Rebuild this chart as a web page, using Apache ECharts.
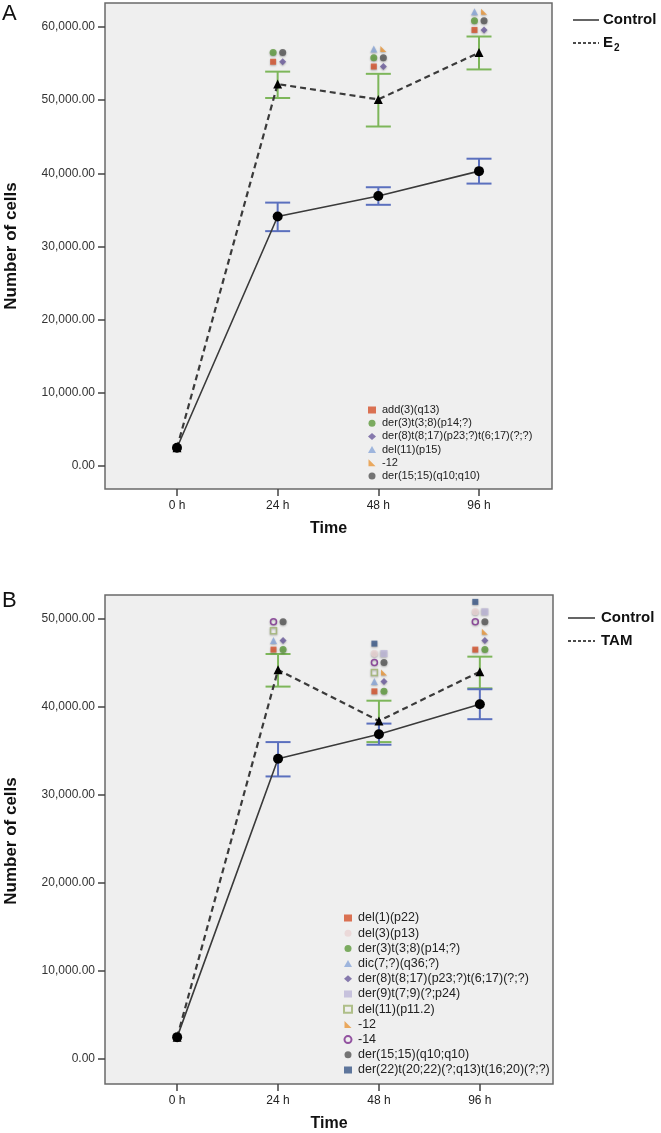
<!DOCTYPE html>
<html>
<head>
<meta charset="utf-8">
<script src="https://cdn.jsdelivr.net/npm/echarts@6/dist/echarts.min.js"></script>
<style>
html,body{margin:0;padding:0;background:#fff;}
#chart{width:661px;height:1133px;}
</style>
</head>
<body>
<div id="chart"></div>
<script>
// ---------- data ----------
const timeLabels = ['0 h', '24 h', '48 h', '96 h'];
const timeIndex = [0, 1, 2, 3];
const yTicksA = [0, 10000, 20000, 30000, 40000, 50000, 60000];
const yTicksB = [0, 10000, 20000, 30000, 40000, 50000];

const controlMean = [2500, 34100, 36900, 40300];
const controlLow  = [null, 32100, 35700, 38600];
const controlHigh = [null, 36000, 38100, 42000];

const e2Mean = [2500, 52200, 50100, 56500];
const e2Low  = [null, 50300, 46400, 54200];
const e2High = [null, 53900, 53600, 58700];

const tamMean = [2500, 44200, 38400, 44000];
const tamLow  = [null, 42300, 36000, 42100];
const tamHigh = [null, 46000, 40700, 45700];

// abnormality markers, panel A (E2)
const aAdd3  = [null, 55250, 54600, 59600];
const aDer3  = [null, 56500, 55800, 60850];
const aDer8  = [null, 55250, 54600, 59600];
const aDel11 = [null, null, 57000, 62100];
const aM12   = [null, null, 57000, 62100];
const aDer15 = [null, 56500, 55800, 60850];

// abnormality markers, panel B (TAM)
const bDel1  = [null, 46500, 41760, 46500];
const bDel3  = [null, null, 46050, 50790];
const bDer3  = [null, 46500, 41760, 46500];
const bDic7  = [null, 47520, 42890, null];
const bDer8  = [null, 47520, 42890, 47520];
const bDer9  = [null, null, 46050, 50790];
const bDel11 = [null, 48650, 43900, null];
const bM12   = [null, null, 43900, 48530];
const bM14   = [null, 49660, 45030, 49660];
const bDer15 = [null, 49660, 45030, 49660];
const bDer22 = [null, null, 47180, 51920];

// ---------- styles ----------
const FONT = '"Liberation Sans", Arial, Helvetica, sans-serif';
const SIDE = {L: -0.045, R: 0.05};
const tri12 = 'path://M0,0L0,10L10,10Z';
const markStyles = {
  'add(3)(q13)':           {symbol: 'rect', color: '#d4512b', size: 6},
  'del(1)(p22)':           {symbol: 'rect', color: '#d4512b', size: 6},
  'del(3)(p13)':           {symbol: 'circle', color: '#ead3d3', size: 7},
  'der(3)t(3;8)(p14;?)':   {symbol: 'circle', color: '#5e9a3c', size: 7},
  'dic(7;?)(q36;?)':       {symbol: 'triangle', color: '#8aa6d8', size: 7},
  'del(11)(p15)':          {symbol: 'triangle', color: '#8aa6d8', size: 7},
  'der(8)t(8;17)(p23;?)t(6;17)(?;?)': {symbol: 'diamond', color: '#6b5b9c', size: 7},
  'der(9)t(7;9)(?;p24)':   {symbol: 'rect', color: '#bdb6d8', size: 7},
  'del(11)(p11.2)':        {symbol: 'rect', color: 'rgba(0,0,0,0)', border: '#9fb36f', size: 6},
  '-12':                   {symbol: tri12, color: '#e8963a', size: 6},
  '-14':                   {symbol: 'circle', color: 'rgba(0,0,0,0)', border: '#7b2a8c', size: 6},
  'der(15;15)(q10;q10)':   {symbol: 'circle', color: '#555555', size: 7},
  'der(22)t(20;22)(?;q13)t(16;20)(?;?)': {symbol: 'rect', color: '#3a5787', size: 6}
};

const marksA = [
  ['add(3)(q13)', aAdd3, 'L'],
  ['der(3)t(3;8)(p14;?)', aDer3, 'L'],
  ['der(8)t(8;17)(p23;?)t(6;17)(?;?)', aDer8, 'R'],
  ['del(11)(p15)', aDel11, 'L'],
  ['-12', aM12, 'R'],
  ['der(15;15)(q10;q10)', aDer15, 'R']
];
const marksB = [
  ['del(1)(p22)', bDel1, 'L'],
  ['del(3)(p13)', bDel3, 'L'],
  ['der(3)t(3;8)(p14;?)', bDer3, 'R'],
  ['dic(7;?)(q36;?)', bDic7, 'L'],
  ['der(8)t(8;17)(p23;?)t(6;17)(?;?)', bDer8, 'R'],
  ['der(9)t(7;9)(?;p24)', bDer9, 'R'],
  ['del(11)(p11.2)', bDel11, 'L'],
  ['-12', bM12, 'R'],
  ['-14', bM14, 'L'],
  ['der(15;15)(q10;q10)', bDer15, 'R'],
  ['der(22)t(20;22)(?;q13)t(16;20)(?;?)', bDer22, 'L']
];

function fmt(v) {
  return v.toLocaleString('en-US', {minimumFractionDigits: 2, maximumFractionDigits: 2});
}

function xAxisFor(gridIndex) {
  return {
    type: 'value', gridIndex: gridIndex, min: -0.715, max: 3.725, position: 'bottom',
    axisLine: {show: false, onZero: false},
    splitLine: {show: false},
    axisTick: {show: true, inside: false, length: 7, customValues: timeIndex,
               lineStyle: {color: '#444', width: 1.5}},
    axisLabel: {customValues: timeIndex, formatter: v => timeLabels[Math.round(v)] || '',
                color: '#222', fontSize: 12, fontFamily: FONT, margin: 11},
    name: 'Time', nameLocation: 'middle', nameGap: 32,
    nameTextStyle: {fontFamily: FONT, fontWeight: 'bold', fontSize: 16, color: '#111'}
  };
}
function yAxisFor(gridIndex, min, max, ticks) {
  return {
    type: 'value', gridIndex: gridIndex, min: min, max: max, position: 'left',
    axisLine: {show: false, onZero: false},
    splitLine: {show: false},
    axisTick: {show: true, inside: false, length: 7, customValues: ticks,
               lineStyle: {color: '#444', width: 1.5}},
    axisLabel: {customValues: ticks, formatter: v => fmt(v), color: '#333',
                fontSize: 12, fontFamily: FONT, margin: 10}
  };
}

function lineData(arr) { return arr.map((v, i) => [timeIndex[i], v]); }
function barData(lo, hi) {
  const out = [];
  lo.forEach((v, i) => { if (v != null && hi[i] != null) out.push([timeIndex[i], v, hi[i]]); });
  return out;
}
function errorBars(name, lo, hi, color, gi) {
  return {
    type: 'custom', name: name, xAxisIndex: gi, yAxisIndex: gi, z: 3,
    encode: {x: 0, y: [1, 2]},
    data: barData(lo, hi),
    renderItem: function (params, api) {
      const x = api.value(0);
      const p1 = api.coord([x, api.value(1)]);
      const p2 = api.coord([x, api.value(2)]);
      const hw = 12.5;
      const st = {stroke: color, lineWidth: 2};
      return {type: 'group', children: [
        {type: 'line', shape: {x1: p1[0], y1: p1[1], x2: p2[0], y2: p2[1]}, style: st},
        {type: 'line', shape: {x1: p1[0] - hw, y1: p1[1], x2: p1[0] + hw, y2: p1[1]}, style: st},
        {type: 'line', shape: {x1: p2[0] - hw, y1: p2[1], x2: p2[0] + hw, y2: p2[1]}, style: st}
      ]};
    }
  };
}
function markSeries(list, gi) {
  return list.map(([name, arr, side]) => {
    const s = markStyles[name];
    const data = [];
    arr.forEach((v, i) => { if (v != null) data.push([timeIndex[i] + SIDE[side], v]); });
    return {
      type: 'scatter', name: name, xAxisIndex: gi, yAxisIndex: gi, z: 6,
      symbol: s.symbol, symbolSize: s.size, symbolKeepAspect: true,
      itemStyle: {color: s.color, borderColor: s.border || s.color, borderWidth: s.border ? 1.5 : 0,
                  shadowBlur: 2, shadowColor: 'rgba(0,0,0,0.35)', shadowOffsetY: 1},
      data: data, silent: true
    };
  });
}
function meanLine(name, arr, gi, dashed, symbol, size) {
  return {
    type: 'line', name: name, xAxisIndex: gi, yAxisIndex: gi, z: dashed ? 4 : 5,
    data: lineData(arr), symbol: symbol, symbolSize: size, showSymbol: true,
    lineStyle: {color: '#3a3a3a', width: dashed ? 2.2 : 1.6, type: dashed ? [6, 4] : 'solid'},
    itemStyle: {color: '#000'}, silent: true
  };
}

function legendFor(list, left, top, fontSize, lineHeight) {
  return {
    orient: 'vertical', left: left, top: top, padding: 0,
    itemWidth: 8, itemHeight: 7, itemGap: 0.2,
    selectedMode: false,
    textStyle: {fontFamily: FONT, fontSize: fontSize, color: '#222', lineHeight: lineHeight,
                padding: [0, 0, 0, 1]},
    data: list.map(m => m[0])
  };
}

const series = [
  meanLine('E2', e2Mean, 0, true, 'triangle', 9),
  meanLine('Control A', controlMean, 0, false, 'circle', 10),
  errorBars('E2 err', e2Low, e2High, '#7db65a', 0),
  errorBars('Control err A', controlLow, controlHigh, '#5b70be', 0),
  meanLine('TAM', tamMean, 1, true, 'triangle', 9),
  meanLine('Control B', controlMean, 1, false, 'circle', 10),
  errorBars('TAM err', tamLow, tamHigh, '#7db65a', 1),
  errorBars('Control err B', controlLow, controlHigh, '#5b70be', 1)
].concat(markSeries(marksA, 0), markSeries(marksB, 1));

function keyGraphic(top, x1, x2, tx, label2) {
  return [
    {type: 'line', shape: {x1: x1, y1: top, x2: x2, y2: top}, style: {stroke: '#111', lineWidth: 1.3}},
    {type: 'text', x: tx, y: top, style: {text: 'Control', fontFamily: FONT, fontWeight: 'bold', fontSize: 15,
      fill: '#111', verticalAlign: 'middle'}},
    {type: 'line', shape: {x1: x1, y1: top + 23, x2: x2, y2: top + 23},
      style: {stroke: '#111', lineWidth: 1.3, lineDash: [3, 2]}},
    {type: 'text', x: tx, y: top + 23, style: {text: label2, fontFamily: FONT, fontWeight: 'bold', fontSize: 15,
      fill: '#111', verticalAlign: 'middle',
      rich: {b: {fontFamily: FONT, fontWeight: 'bold', fontSize: 15, fill: '#111'},
             sub: {fontFamily: FONT, fontWeight: 'bold', fontSize: 10, fill: '#111', padding: [10, 0, 0, 1]}}}}
  ];
}

function yTitle(cy) {
  return {type: 'text', x: 11, y: cy, rotation: Math.PI / 2, style: {text: 'Number of cells', fontFamily: FONT,
    fontWeight: 'bold', fontSize: 17, fill: '#111', align: 'center', verticalAlign: 'middle'}};
}

const option = {
  animation: false,
  backgroundColor: '#ffffff',
  grid: [
    {left: 105, top: 3, width: 447, height: 486, show: true, backgroundColor: '#efefef',
     borderColor: '#6a6a6a', borderWidth: 1.5},
    {left: 105, top: 595, width: 448, height: 492, show: true, backgroundColor: '#efefef',
     borderColor: '#6a6a6a', borderWidth: 1.5}
  ],
  xAxis: [xAxisFor(0), xAxisFor(1)],
  yAxis: [yAxisFor(0, -3140, 63280, yTicksA), yAxisFor(1, -2820, 52700, yTicksB)],
  legend: [
    legendFor(marksA, 368, 403.5, 11, 13),
    legendFor(marksB, 343, 910.5, 12.5, 15)
  ],
  graphic: [
    {type: 'text', x: 2, y: 14, style: {text: 'A', fontFamily: FONT, fontSize: 22, fill: '#111', verticalAlign: 'middle'}},
    {type: 'text', x: 2, y: 601, style: {text: 'B', fontFamily: FONT, fontSize: 22, fill: '#111', verticalAlign: 'middle'}},
    yTitle(246), yTitle(841)
  ].concat(keyGraphic(20, 573, 599, 603, '{b|E}{sub|2}'), keyGraphic(618, 568, 595, 601, 'TAM')),
  series: series
};

const chart = echarts.init(document.getElementById('chart'), null, {renderer: 'canvas'});
chart.setOption(option);
</script>
</body>
</html>
